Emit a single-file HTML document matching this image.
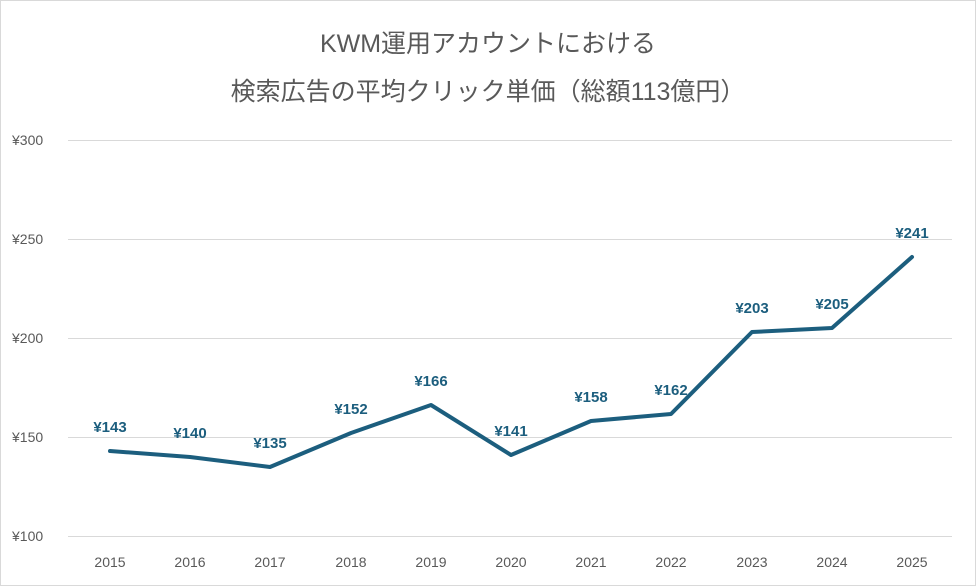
<!DOCTYPE html>
<html><head><meta charset="utf-8"><style>
body{margin:0;background:#fff}
svg{display:block}
text{font-family:"Liberation Sans","Noto Sans CJK JP",sans-serif}
</style></head><body>
<svg width="976" height="586" viewBox="0 0 976 586" xmlns="http://www.w3.org/2000/svg">
<rect x="0.5" y="0.5" width="975" height="585" fill="#fff" stroke="#d9d9d9"/>
<text x="488" y="52" text-anchor="middle" font-size="25" fill="#595959">KWM運用アカウントにおける</text>
<text x="488" y="100" text-anchor="middle" font-size="25" fill="#595959">検索広告の平均クリック単価（総額113億円）</text>
<g stroke="#d9d9d9" stroke-width="1">
<line x1="68" x2="952" y1="140.5" y2="140.5"/>
<line x1="68" x2="952" y1="239.5" y2="239.5"/>
<line x1="68" x2="952" y1="338.5" y2="338.5"/>
<line x1="68" x2="952" y1="437.5" y2="437.5"/>
<line x1="68" x2="952" y1="536.5" y2="536.5"/>
</g>
<g font-size="14" fill="#595959">
<text x="12" y="145">¥300</text>
<text x="12" y="244">¥250</text>
<text x="12" y="343">¥200</text>
<text x="12" y="442">¥150</text>
<text x="12" y="541">¥100</text>
</g>
<g font-size="14" fill="#595959" text-anchor="middle">
<text x="110" y="567">2015</text><text x="190" y="567">2016</text><text x="270" y="567">2017</text>
<text x="351" y="567">2018</text><text x="431" y="567">2019</text><text x="511" y="567">2020</text>
<text x="591" y="567">2021</text><text x="671" y="567">2022</text><text x="752" y="567">2023</text>
<text x="832" y="567">2024</text><text x="912" y="567">2025</text>
</g>
<polyline fill="none" stroke="#1c5e7e" stroke-width="4" stroke-linejoin="round" stroke-linecap="round"
points="110,451 190,457 270,467 351,433 431,405 511,455 591,421 671,414 752,332 832,328 912,257"/>
<g font-size="15" font-weight="bold" fill="#1c5e7e" text-anchor="middle">
<text x="110" y="432">¥143</text><text x="190" y="438">¥140</text><text x="270" y="448">¥135</text>
<text x="351" y="414">¥152</text><text x="431" y="386">¥166</text><text x="511" y="436">¥141</text>
<text x="591" y="402">¥158</text><text x="671" y="395">¥162</text><text x="752" y="313">¥203</text>
<text x="832" y="309">¥205</text><text x="912" y="238">¥241</text>
</g>
</svg>
</body></html>
